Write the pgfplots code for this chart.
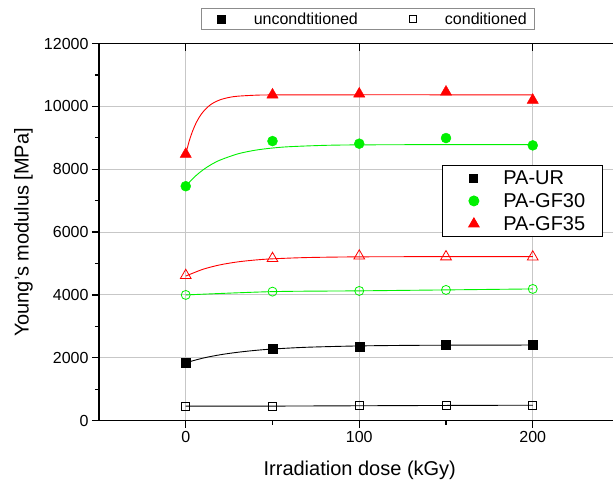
\documentclass[border=0pt]{standalone}
\usepackage{fontspec}
\setmainfont{Liberation Sans}
\usepackage{pgfplots}
\pgfplotsset{compat=1.18}
\definecolor{cred}{RGB}{255,0,0}
\definecolor{cgreen}{RGB}{0,240,0}
\begin{document}
\begin{tikzpicture}
\path[use as bounding box, clip] (-99pt,-65.4pt) rectangle (514pt,420.6pt);
\begin{axis}[
  at={(0pt,0pt)}, anchor=south west,
  scale only axis, width=520.5pt, height=377pt,
  xmin=-50, xmax=250, ymin=0, ymax=12000,
  axis y line*=left,
  xtick={0,100,200}, minor xtick={50,150},
  ytick={0,2000,...,12000}, minor ytick={1000,3000,...,11000},
  xtick pos=left,
  tick align=outside,
  major tick length=7pt, minor tick length=4pt,
  grid=major, major grid style={color=black!22, line width=0.9pt},
  axis line style={line width=1.3pt},
  every tick/.style={black, line width=1.2pt},
  tick label style={font=\fontsize{16}{16}\selectfont},
  /pgf/number format/assume math mode=true,
  scaled y ticks=false, yticklabel style={/pgf/number format/1000 sep={}},
  xlabel={Irradiation dose (kGy)}, ylabel={Young's modulus [MPa]},
  label style={font=\fontsize{20}{20}\selectfont},
  xlabel style={at={(axis description cs:0.501,-0.131)}, anchor=center},
  ylabel style={at={(axis description cs:-0.145,0.499)}, anchor=center},
  legend image code/.code={\path (-16pt,0pt) (27pt,0pt); \draw[#1] plot coordinates {(0pt,0pt)};},
  legend style={at={(axis description cs:0.659,0.678)}, anchor=north west,
    draw=black, line width=0.9pt, fill=white,
    font=\fontsize{20}{20}\selectfont, row sep=3.5pt,
    inner xsep=15pt, inner ysep=3pt},
  legend cell align=left,
]
% fitted curves
\addplot[cred, line width=0.9pt, smooth, forget plot] coordinates {
 (0,8480) (2,8898) (4,9223) (6,9478) (8,9675) (10,9828) (13,9998) (16,10115)
 (20,10215) (25,10287) (30,10326) (40,10357) (50,10366) (100,10370) (150,10370) (200,10370)};
\addplot[cgreen, line width=0.9pt, smooth, forget plot] coordinates {
 (0,7460) (5,7753) (10,7981) (15,8160) (20,8297) (30,8490) (40,8606) (50,8676)
 (60,8719) (80,8761) (100,8776) (150,8785) (200,8785)};
\addplot[black, line width=0.9pt, smooth, forget plot] coordinates {
 (0,1841) (10,1990) (20,2097) (30,2175) (40,2234) (50,2278) (70,2335) (100,2377)
 (130,2395) (160,2402) (200,2405)};
\addplot[cred, line width=0.9pt, smooth, forget plot] coordinates {
 (0,4600) (10,4818) (20,4960) (30,5052) (40,5111) (50,5149) (70,5190) (100,5212)
 (150,5219) (200,5220)};
\addplot[cgreen, line width=0.9pt, smooth, forget plot] coordinates {
 (0,4000) (50,4105) (100,4130) (150,4160) (200,4191)};
\addplot[black, line width=0.9pt, smooth, forget plot] coordinates {
 (0,462) (50,462) (100,472) (150,482) (200,490)};
% unconditioned markers
\addplot[only marks, mark=square*, mark size=4.5pt, black, forget plot] coordinates {
 (0,1841) (50,2277) (100,2363) (150,2414) (200,2404)};
\addplot[only marks, mark=*, mark size=5pt, cgreen, forget plot] coordinates {
 (0,7460) (50,8897) (100,8814) (150,8993) (200,8760)};
\addplot[only marks, mark=triangle*, mark size=6.5pt, cred, forget plot] coordinates {
 (0,8480) (50,10370) (100,10400) (150,10460) (200,10200)};
% conditioned markers
\addplot[only marks, mark=square, mark size=4pt, black, line width=0.8pt, mark options={fill=white}, forget plot] coordinates {
 (0,462) (50,462) (100,474) (150,487) (200,487)};
\addplot[only marks, mark=o, mark size=4.5pt, cgreen, line width=0.8pt, mark options={fill=white}, forget plot] coordinates {
 (0,4000) (50,4105) (100,4127) (150,4159) (200,4191)};
\addplot[only marks, mark=triangle, mark size=6.2pt, cred, line width=0.8pt, mark options={fill=white}, forget plot] coordinates {
 (0,4620) (50,5160) (100,5240) (150,5215) (200,5210)};
\addlegendimage{only marks, mark=square*, mark size=4pt, black}
\addlegendentry{PA-UR}
\addlegendimage{only marks, mark=*, mark size=5pt, cgreen}
\addlegendentry{PA-GF30}
\addlegendimage{only marks, mark=triangle*, mark size=6pt, cred}
\addlegendentry{PA-GF35}
\end{axis}
\begin{axis}[
  at={(0pt,0pt)}, anchor=south west,
  scale only axis, width=520.5pt, height=377pt,
  xmin=-50, xmax=250, ymin=0, ymax=12000,
  axis x line*=top, hide y axis,
  xtick={0,100,200}, xticklabels={},
  tick align=inside, major tick length=7pt,
  axis line style={line width=1.3pt},
  every tick/.style={black, line width=1.2pt},
  legend columns=2,
  legend image code/.code={\path (-14pt,0pt) (29.5pt,0pt); \draw[#1] plot coordinates {(0pt,0pt)};},
  legend style={at={(axis description cs:0.517,1.065)}, anchor=center,
    draw=black!45, line width=0.9pt,
    font=\fontsize{16}{16}\selectfont,
    /tikz/every even column/.append style={column sep=39pt},
    inner xsep=6pt, inner ysep=2pt},
]
\addlegendimage{only marks, mark=square*, mark size=4pt, black}
\addlegendentry{uncondtitioned}
\addlegendimage{only marks, mark=square, mark size=3.5pt, black, line width=0.6pt}
\addlegendentry{conditioned}
\end{axis}
\end{tikzpicture}
\end{document}
